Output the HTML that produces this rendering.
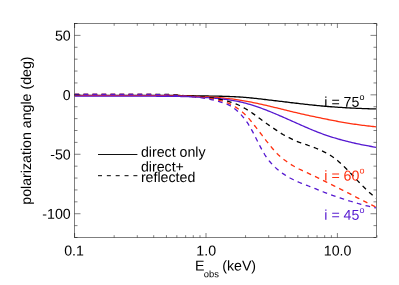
<!DOCTYPE html>
<html><head><meta charset="utf-8"><style>
html,body{margin:0;padding:0;background:#fff;}
body{width:399px;height:285px;overflow:hidden;position:relative;font-family:"Liberation Sans",sans-serif;}
</style></head><body>
<svg width="399" height="285" viewBox="0 0 399 285" style="position:absolute;left:0;top:0;opacity:0.999;will-change:transform">
<rect x="0" y="0" width="399" height="285" fill="#fff"/>
<clipPath id="c"><rect x="74.5" y="23.5" width="302.0" height="214.0"/></clipPath>
<g clip-path="url(#c)" fill="none" stroke-width="1.3" stroke-linejoin="round">
<path d="M74.50 95.35 L76.00 95.35 L77.50 95.35 L79.00 95.35 L80.50 95.35 L82.00 95.35 L83.50 95.35 L85.00 95.35 L86.50 95.35 L88.00 95.35 L89.50 95.35 L91.00 95.35 L92.50 95.35 L94.00 95.35 L95.50 95.35 L97.00 95.35 L98.50 95.35 L100.00 95.35 L101.50 95.35 L103.00 95.35 L104.50 95.35 L106.00 95.35 L107.50 95.35 L109.00 95.35 L110.50 95.35 L112.00 95.35 L113.50 95.35 L115.00 95.35 L116.50 95.35 L118.00 95.35 L119.50 95.35 L121.00 95.35 L122.50 95.35 L124.00 95.35 L125.50 95.35 L127.00 95.35 L128.50 95.35 L130.00 95.35 L131.50 95.35 L133.00 95.35 L134.50 95.35 L136.00 95.35 L137.50 95.35 L139.00 95.35 L140.50 95.35 L142.00 95.35 L143.50 95.35 L145.00 95.35 L146.50 95.35 L148.00 95.35 L149.50 95.36 L151.00 95.36 L152.50 95.36 L154.00 95.36 L155.50 95.37 L157.00 95.37 L158.50 95.38 L160.00 95.38 L161.50 95.39 L163.00 95.39 L164.50 95.40 L166.00 95.41 L167.50 95.42 L169.00 95.43 L170.50 95.44 L172.00 95.45 L173.50 95.46 L175.00 95.47 L176.50 95.49 L178.00 95.51 L179.50 95.52 L181.00 95.54 L182.50 95.56 L184.00 95.59 L185.50 95.61 L187.00 95.64 L188.50 95.66 L190.00 95.69 L191.50 95.72 L193.00 95.75 L194.50 95.78 L196.00 95.80 L197.50 95.83 L199.00 95.86 L200.50 95.89 L202.00 95.91 L203.50 95.94 L205.00 95.96 L206.50 95.99 L208.00 96.01 L209.50 96.04 L211.00 96.06 L212.50 96.09 L214.00 96.11 L215.50 96.14 L217.00 96.17 L218.50 96.20 L220.00 96.24 L221.50 96.27 L223.00 96.31 L224.50 96.35 L226.00 96.39 L227.50 96.44 L229.00 96.49 L230.50 96.55 L232.00 96.61 L233.50 96.67 L235.00 96.74 L236.50 96.82 L238.00 96.90 L239.50 96.99 L241.00 97.09 L242.50 97.19 L244.00 97.31 L245.50 97.43 L247.00 97.56 L248.50 97.69 L250.00 97.84 L251.50 97.99 L253.00 98.14 L254.50 98.30 L256.00 98.46 L257.50 98.63 L259.00 98.80 L260.50 98.97 L262.00 99.15 L263.50 99.32 L265.00 99.50 L266.50 99.67 L268.00 99.85 L269.50 100.03 L271.00 100.21 L272.50 100.38 L274.00 100.56 L275.50 100.74 L277.00 100.92 L278.50 101.10 L280.00 101.28 L281.50 101.47 L283.00 101.65 L284.50 101.83 L286.00 102.01 L287.50 102.19 L289.00 102.37 L290.50 102.55 L292.00 102.73 L293.50 102.91 L295.00 103.09 L296.50 103.27 L298.00 103.44 L299.50 103.62 L301.00 103.79 L302.50 103.96 L304.00 104.13 L305.50 104.30 L307.00 104.47 L308.50 104.63 L310.00 104.79 L311.50 104.95 L313.00 105.11 L314.50 105.26 L316.00 105.41 L317.50 105.56 L319.00 105.71 L320.50 105.85 L322.00 105.98 L323.50 106.12 L325.00 106.25 L326.50 106.38 L328.00 106.50 L329.50 106.62 L331.00 106.74 L332.50 106.85 L334.00 106.96 L335.50 107.07 L337.00 107.18 L338.50 107.28 L340.00 107.38 L341.50 107.47 L343.00 107.57 L344.50 107.66 L346.00 107.74 L347.50 107.83 L349.00 107.91 L350.50 107.99 L352.00 108.06 L353.50 108.14 L355.00 108.21 L356.50 108.28 L358.00 108.34 L359.50 108.41 L361.00 108.47 L362.50 108.53 L364.00 108.58 L365.50 108.64 L367.00 108.69 L368.50 108.74 L370.00 108.79 L371.50 108.84 L373.00 108.89 L374.50 108.93 L376.00 108.97" stroke="#000000"/>
<path d="M74.50 95.65 L76.00 95.65 L77.50 95.65 L79.00 95.65 L80.50 95.65 L82.00 95.65 L83.50 95.65 L85.00 95.65 L86.50 95.65 L88.00 95.65 L89.50 95.65 L91.00 95.65 L92.50 95.65 L94.00 95.65 L95.50 95.65 L97.00 95.65 L98.50 95.65 L100.00 95.65 L101.50 95.65 L103.00 95.65 L104.50 95.65 L106.00 95.65 L107.50 95.65 L109.00 95.65 L110.50 95.65 L112.00 95.65 L113.50 95.65 L115.00 95.65 L116.50 95.65 L118.00 95.65 L119.50 95.65 L121.00 95.65 L122.50 95.65 L124.00 95.65 L125.50 95.65 L127.00 95.65 L128.50 95.65 L130.00 95.65 L131.50 95.65 L133.00 95.65 L134.50 95.65 L136.00 95.65 L137.50 95.65 L139.00 95.65 L140.50 95.65 L142.00 95.65 L143.50 95.65 L145.00 95.65 L146.50 95.66 L148.00 95.66 L149.50 95.66 L151.00 95.66 L152.50 95.67 L154.00 95.67 L155.50 95.68 L157.00 95.68 L158.50 95.69 L160.00 95.70 L161.50 95.71 L163.00 95.72 L164.50 95.73 L166.00 95.75 L167.50 95.76 L169.00 95.78 L170.50 95.79 L172.00 95.81 L173.50 95.83 L175.00 95.86 L176.50 95.88 L178.00 95.91 L179.50 95.94 L181.00 95.97 L182.50 96.00 L184.00 96.04 L185.50 96.08 L187.00 96.13 L188.50 96.17 L190.00 96.22 L191.50 96.27 L193.00 96.33 L194.50 96.39 L196.00 96.44 L197.50 96.50 L199.00 96.57 L200.50 96.63 L202.00 96.69 L203.50 96.76 L205.00 96.83 L206.50 96.90 L208.00 96.97 L209.50 97.05 L211.00 97.13 L212.50 97.22 L214.00 97.31 L215.50 97.40 L217.00 97.50 L218.50 97.61 L220.00 97.73 L221.50 97.86 L223.00 97.99 L224.50 98.13 L226.00 98.28 L227.50 98.44 L229.00 98.61 L230.50 98.79 L232.00 98.98 L233.50 99.17 L235.00 99.38 L236.50 99.59 L238.00 99.82 L239.50 100.05 L241.00 100.29 L242.50 100.54 L244.00 100.80 L245.50 101.06 L247.00 101.34 L248.50 101.62 L250.00 101.91 L251.50 102.21 L253.00 102.52 L254.50 102.83 L256.00 103.15 L257.50 103.47 L259.00 103.80 L260.50 104.13 L262.00 104.46 L263.50 104.80 L265.00 105.14 L266.50 105.49 L268.00 105.84 L269.50 106.19 L271.00 106.54 L272.50 106.90 L274.00 107.26 L275.50 107.63 L277.00 107.99 L278.50 108.36 L280.00 108.72 L281.50 109.09 L283.00 109.46 L284.50 109.83 L286.00 110.20 L287.50 110.57 L289.00 110.93 L290.50 111.30 L292.00 111.66 L293.50 112.02 L295.00 112.37 L296.50 112.73 L298.00 113.08 L299.50 113.43 L301.00 113.77 L302.50 114.11 L304.00 114.45 L305.50 114.78 L307.00 115.11 L308.50 115.44 L310.00 115.77 L311.50 116.09 L313.00 116.41 L314.50 116.72 L316.00 117.04 L317.50 117.35 L319.00 117.66 L320.50 117.97 L322.00 118.28 L323.50 118.58 L325.00 118.89 L326.50 119.19 L328.00 119.49 L329.50 119.79 L331.00 120.09 L332.50 120.38 L334.00 120.67 L335.50 120.96 L337.00 121.25 L338.50 121.53 L340.00 121.81 L341.50 122.08 L343.00 122.34 L344.50 122.60 L346.00 122.86 L347.50 123.11 L349.00 123.35 L350.50 123.59 L352.00 123.82 L353.50 124.04 L355.00 124.26 L356.50 124.48 L358.00 124.68 L359.50 124.89 L361.00 125.09 L362.50 125.28 L364.00 125.47 L365.50 125.65 L367.00 125.83 L368.50 126.00 L370.00 126.17 L371.50 126.34 L373.00 126.50 L374.50 126.66 L376.00 126.82" stroke="#ff3010"/>
<path d="M74.50 96.20 L76.00 96.20 L77.50 96.20 L79.00 96.20 L80.50 96.20 L82.00 96.20 L83.50 96.20 L85.00 96.20 L86.50 96.20 L88.00 96.20 L89.50 96.20 L91.00 96.20 L92.50 96.20 L94.00 96.20 L95.50 96.20 L97.00 96.20 L98.50 96.20 L100.00 96.20 L101.50 96.20 L103.00 96.20 L104.50 96.20 L106.00 96.20 L107.50 96.20 L109.00 96.20 L110.50 96.20 L112.00 96.20 L113.50 96.20 L115.00 96.20 L116.50 96.20 L118.00 96.20 L119.50 96.20 L121.00 96.20 L122.50 96.20 L124.00 96.20 L125.50 96.20 L127.00 96.20 L128.50 96.20 L130.00 96.20 L131.50 96.20 L133.00 96.20 L134.50 96.20 L136.00 96.20 L137.50 96.20 L139.00 96.20 L140.50 96.20 L142.00 96.20 L143.50 96.20 L145.00 96.20 L146.50 96.20 L148.00 96.21 L149.50 96.21 L151.00 96.21 L152.50 96.21 L154.00 96.22 L155.50 96.22 L157.00 96.23 L158.50 96.23 L160.00 96.24 L161.50 96.25 L163.00 96.26 L164.50 96.27 L166.00 96.28 L167.50 96.29 L169.00 96.30 L170.50 96.32 L172.00 96.33 L173.50 96.35 L175.00 96.37 L176.50 96.39 L178.00 96.42 L179.50 96.45 L181.00 96.48 L182.50 96.52 L184.00 96.56 L185.50 96.60 L187.00 96.65 L188.50 96.71 L190.00 96.76 L191.50 96.82 L193.00 96.89 L194.50 96.96 L196.00 97.03 L197.50 97.10 L199.00 97.18 L200.50 97.26 L202.00 97.35 L203.50 97.43 L205.00 97.53 L206.50 97.62 L208.00 97.72 L209.50 97.83 L211.00 97.94 L212.50 98.05 L214.00 98.17 L215.50 98.30 L217.00 98.44 L218.50 98.58 L220.00 98.73 L221.50 98.90 L223.00 99.07 L224.50 99.25 L226.00 99.44 L227.50 99.65 L229.00 99.86 L230.50 100.09 L232.00 100.33 L233.50 100.59 L235.00 100.86 L236.50 101.14 L238.00 101.44 L239.50 101.76 L241.00 102.09 L242.50 102.45 L244.00 102.82 L245.50 103.21 L247.00 103.61 L248.50 104.04 L250.00 104.48 L251.50 104.94 L253.00 105.41 L254.50 105.90 L256.00 106.40 L257.50 106.91 L259.00 107.43 L260.50 107.97 L262.00 108.51 L263.50 109.07 L265.00 109.63 L266.50 110.21 L268.00 110.79 L269.50 111.39 L271.00 111.99 L272.50 112.60 L274.00 113.23 L275.50 113.86 L277.00 114.49 L278.50 115.14 L280.00 115.79 L281.50 116.44 L283.00 117.10 L284.50 117.76 L286.00 118.43 L287.50 119.10 L289.00 119.76 L290.50 120.43 L292.00 121.10 L293.50 121.77 L295.00 122.44 L296.50 123.11 L298.00 123.77 L299.50 124.44 L301.00 125.10 L302.50 125.75 L304.00 126.41 L305.50 127.06 L307.00 127.71 L308.50 128.35 L310.00 128.98 L311.50 129.61 L313.00 130.23 L314.50 130.84 L316.00 131.44 L317.50 132.03 L319.00 132.61 L320.50 133.18 L322.00 133.74 L323.50 134.28 L325.00 134.81 L326.50 135.33 L328.00 135.84 L329.50 136.33 L331.00 136.82 L332.50 137.29 L334.00 137.75 L335.50 138.21 L337.00 138.65 L338.50 139.08 L340.00 139.50 L341.50 139.92 L343.00 140.32 L344.50 140.71 L346.00 141.10 L347.50 141.48 L349.00 141.85 L350.50 142.21 L352.00 142.56 L353.50 142.91 L355.00 143.25 L356.50 143.58 L358.00 143.90 L359.50 144.22 L361.00 144.53 L362.50 144.83 L364.00 145.13 L365.50 145.42 L367.00 145.70 L368.50 145.98 L370.00 146.25 L371.50 146.51 L373.00 146.77 L374.50 147.02 L376.00 147.27" stroke="#5518d0"/>
<path d="M74.50 94.30 L76.00 94.30 L77.50 94.30 L79.00 94.30 L80.50 94.30 L82.00 94.30 L83.50 94.30 L85.00 94.30 L86.50 94.30 L88.00 94.30 L89.50 94.30 L91.00 94.30 L92.50 94.30 L94.00 94.30 L95.50 94.30 L97.00 94.30 L98.50 94.30 L100.00 94.30 L101.50 94.30 L103.00 94.30 L104.50 94.30 L106.00 94.30 L107.50 94.30 L109.00 94.30 L110.50 94.30 L112.00 94.30 L113.50 94.30 L115.00 94.30 L116.50 94.30 L118.00 94.30 L119.50 94.30 L121.00 94.30 L122.50 94.30 L124.00 94.30 L125.50 94.30 L127.00 94.30 L128.50 94.30 L130.00 94.30 L131.50 94.30 L133.00 94.30 L134.50 94.30 L136.00 94.30 L137.50 94.30 L139.00 94.30 L140.50 94.30 L142.00 94.30 L143.50 94.30 L145.00 94.30 L146.50 94.30 L148.00 94.30 L149.50 94.30 L151.00 94.31 L152.50 94.31 L154.00 94.32 L155.50 94.32 L157.00 94.33 L158.50 94.35 L160.00 94.36 L161.50 94.38 L163.00 94.40 L164.50 94.42 L166.00 94.45 L167.50 94.48 L169.00 94.52 L170.50 94.58 L172.00 94.64 L173.50 94.73 L175.00 94.82 L176.50 94.93 L178.00 95.04 L179.50 95.17 L181.00 95.30 L182.50 95.43 L184.00 95.56 L185.50 95.69 L187.00 95.82 L188.50 95.95 L190.00 96.07 L191.50 96.19 L193.00 96.30 L194.50 96.41 L196.00 96.52 L197.50 96.63 L199.00 96.74 L200.50 96.84 L202.00 96.96 L203.50 97.07 L205.00 97.20 L206.50 97.33 L208.00 97.47 L209.50 97.63 L211.00 97.81 L212.50 98.01 L214.00 98.23 L215.50 98.47 L217.00 98.74 L218.50 99.03 L220.00 99.34 L221.50 99.68 L223.00 100.03 L224.50 100.40 L226.00 100.79 L227.50 101.19 L229.00 101.61 L230.50 102.05 L232.00 102.51 L233.50 103.00 L235.00 103.54 L236.50 104.12 L238.00 104.77 L239.50 105.47 L241.00 106.23 L242.50 107.04 L244.00 107.88 L245.50 108.76 L247.00 109.67 L248.50 110.61 L250.00 111.57 L251.50 112.57 L253.00 113.59 L254.50 114.64 L256.00 115.71 L257.50 116.81 L259.00 117.93 L260.50 119.06 L262.00 120.19 L263.50 121.32 L265.00 122.43 L266.50 123.52 L268.00 124.57 L269.50 125.61 L271.00 126.62 L272.50 127.62 L274.00 128.63 L275.50 129.64 L277.00 130.65 L278.50 131.66 L280.00 132.64 L281.50 133.60 L283.00 134.51 L284.50 135.37 L286.00 136.19 L287.50 136.96 L289.00 137.70 L290.50 138.43 L292.00 139.14 L293.50 139.84 L295.00 140.52 L296.50 141.18 L298.00 141.80 L299.50 142.40 L301.00 142.95 L302.50 143.48 L304.00 143.99 L305.50 144.49 L307.00 144.99 L308.50 145.50 L310.00 146.02 L311.50 146.55 L313.00 147.10 L314.50 147.67 L316.00 148.26 L317.50 148.87 L319.00 149.50 L320.50 150.16 L322.00 150.85 L323.50 151.57 L325.00 152.33 L326.50 153.13 L328.00 153.97 L329.50 154.86 L331.00 155.79 L332.50 156.78 L334.00 157.83 L335.50 158.95 L337.00 160.13 L338.50 161.38 L340.00 162.68 L341.50 164.05 L343.00 165.48 L344.50 166.95 L346.00 168.46 L347.50 170.01 L349.00 171.58 L350.50 173.17 L352.00 174.77 L353.50 176.38 L355.00 177.98 L356.50 179.58 L358.00 181.16 L359.50 182.73 L361.00 184.28 L362.50 185.81 L364.00 187.31 L365.50 188.78 L367.00 190.22 L368.50 191.62 L370.00 192.99 L371.50 194.32 L373.00 195.62 L374.50 196.90 L376.00 198.16" stroke="#000000" stroke-dasharray="4.7 4.3"/>
<path d="M74.50 94.30 L76.00 94.30 L77.50 94.30 L79.00 94.30 L80.50 94.30 L82.00 94.30 L83.50 94.30 L85.00 94.30 L86.50 94.30 L88.00 94.30 L89.50 94.30 L91.00 94.30 L92.50 94.30 L94.00 94.30 L95.50 94.30 L97.00 94.30 L98.50 94.30 L100.00 94.30 L101.50 94.30 L103.00 94.30 L104.50 94.30 L106.00 94.30 L107.50 94.30 L109.00 94.30 L110.50 94.30 L112.00 94.30 L113.50 94.30 L115.00 94.30 L116.50 94.30 L118.00 94.30 L119.50 94.30 L121.00 94.30 L122.50 94.30 L124.00 94.30 L125.50 94.30 L127.00 94.30 L128.50 94.30 L130.00 94.30 L131.50 94.30 L133.00 94.30 L134.50 94.30 L136.00 94.30 L137.50 94.30 L139.00 94.31 L140.50 94.31 L142.00 94.32 L143.50 94.33 L145.00 94.34 L146.50 94.35 L148.00 94.37 L149.50 94.39 L151.00 94.42 L152.50 94.44 L154.00 94.47 L155.50 94.51 L157.00 94.54 L158.50 94.58 L160.00 94.62 L161.50 94.66 L163.00 94.71 L164.50 94.77 L166.00 94.83 L167.50 94.90 L169.00 94.97 L170.50 95.05 L172.00 95.13 L173.50 95.22 L175.00 95.30 L176.50 95.39 L178.00 95.48 L179.50 95.58 L181.00 95.67 L182.50 95.77 L184.00 95.87 L185.50 95.98 L187.00 96.08 L188.50 96.20 L190.00 96.31 L191.50 96.44 L193.00 96.56 L194.50 96.69 L196.00 96.83 L197.50 96.97 L199.00 97.12 L200.50 97.27 L202.00 97.43 L203.50 97.60 L205.00 97.77 L206.50 97.96 L208.00 98.16 L209.50 98.38 L211.00 98.62 L212.50 98.89 L214.00 99.17 L215.50 99.48 L217.00 99.81 L218.50 100.15 L220.00 100.52 L221.50 100.91 L223.00 101.32 L224.50 101.78 L226.00 102.27 L227.50 102.83 L229.00 103.46 L230.50 104.16 L232.00 104.94 L233.50 105.78 L235.00 106.69 L236.50 107.65 L238.00 108.67 L239.50 109.76 L241.00 110.92 L242.50 112.17 L244.00 113.51 L245.50 114.97 L247.00 116.53 L248.50 118.19 L250.00 119.92 L251.50 121.73 L253.00 123.59 L254.50 125.48 L256.00 127.40 L257.50 129.34 L259.00 131.28 L260.50 133.24 L262.00 135.19 L263.50 137.15 L265.00 139.10 L266.50 141.04 L268.00 142.96 L269.50 144.85 L271.00 146.70 L272.50 148.50 L274.00 150.23 L275.50 151.89 L277.00 153.46 L278.50 154.94 L280.00 156.31 L281.50 157.60 L283.00 158.82 L284.50 159.98 L286.00 161.09 L287.50 162.16 L289.00 163.19 L290.50 164.18 L292.00 165.13 L293.50 166.03 L295.00 166.89 L296.50 167.70 L298.00 168.48 L299.50 169.24 L301.00 169.96 L302.50 170.67 L304.00 171.35 L305.50 172.03 L307.00 172.69 L308.50 173.36 L310.00 174.04 L311.50 174.72 L313.00 175.42 L314.50 176.13 L316.00 176.85 L317.50 177.58 L319.00 178.32 L320.50 179.07 L322.00 179.82 L323.50 180.58 L325.00 181.33 L326.50 182.09 L328.00 182.84 L329.50 183.59 L331.00 184.34 L332.50 185.09 L334.00 185.84 L335.50 186.58 L337.00 187.33 L338.50 188.08 L340.00 188.84 L341.50 189.59 L343.00 190.35 L344.50 191.11 L346.00 191.87 L347.50 192.64 L349.00 193.41 L350.50 194.19 L352.00 194.97 L353.50 195.75 L355.00 196.53 L356.50 197.31 L358.00 198.08 L359.50 198.85 L361.00 199.62 L362.50 200.38 L364.00 201.14 L365.50 201.89 L367.00 202.64 L368.50 203.38 L370.00 204.12 L371.50 204.86 L373.00 205.59 L374.50 206.33 L376.00 207.05" stroke="#ff3010" stroke-dasharray="4.7 4.3"/>
<path d="M74.50 94.30 L76.00 94.30 L77.50 94.30 L79.00 94.30 L80.50 94.30 L82.00 94.30 L83.50 94.30 L85.00 94.30 L86.50 94.30 L88.00 94.30 L89.50 94.30 L91.00 94.30 L92.50 94.30 L94.00 94.30 L95.50 94.30 L97.00 94.30 L98.50 94.30 L100.00 94.30 L101.50 94.30 L103.00 94.30 L104.50 94.30 L106.00 94.30 L107.50 94.30 L109.00 94.30 L110.50 94.30 L112.00 94.30 L113.50 94.30 L115.00 94.30 L116.50 94.30 L118.00 94.30 L119.50 94.30 L121.00 94.30 L122.50 94.30 L124.00 94.30 L125.50 94.30 L127.00 94.30 L128.50 94.30 L130.00 94.30 L131.50 94.30 L133.00 94.30 L134.50 94.30 L136.00 94.30 L137.50 94.30 L139.00 94.31 L140.50 94.31 L142.00 94.32 L143.50 94.34 L145.00 94.35 L146.50 94.37 L148.00 94.40 L149.50 94.43 L151.00 94.46 L152.50 94.50 L154.00 94.53 L155.50 94.58 L157.00 94.62 L158.50 94.67 L160.00 94.72 L161.50 94.77 L163.00 94.83 L164.50 94.90 L166.00 94.97 L167.50 95.04 L169.00 95.12 L170.50 95.21 L172.00 95.30 L173.50 95.39 L175.00 95.48 L176.50 95.58 L178.00 95.67 L179.50 95.77 L181.00 95.87 L182.50 95.97 L184.00 96.07 L185.50 96.18 L187.00 96.29 L188.50 96.41 L190.00 96.53 L191.50 96.67 L193.00 96.82 L194.50 96.97 L196.00 97.14 L197.50 97.32 L199.00 97.51 L200.50 97.71 L202.00 97.92 L203.50 98.15 L205.00 98.39 L206.50 98.65 L208.00 98.92 L209.50 99.21 L211.00 99.53 L212.50 99.86 L214.00 100.22 L215.50 100.59 L217.00 100.98 L218.50 101.39 L220.00 101.82 L221.50 102.26 L223.00 102.73 L224.50 103.24 L226.00 103.79 L227.50 104.42 L229.00 105.13 L230.50 105.93 L232.00 106.84 L233.50 107.86 L235.00 109.00 L236.50 110.25 L238.00 111.61 L239.50 113.09 L241.00 114.67 L242.50 116.35 L244.00 118.16 L245.50 120.10 L247.00 122.21 L248.50 124.48 L250.00 126.94 L251.50 129.57 L253.00 132.35 L254.50 135.24 L256.00 138.20 L257.50 141.20 L259.00 144.19 L260.50 147.11 L262.00 149.92 L263.50 152.56 L265.00 155.02 L266.50 157.29 L268.00 159.37 L269.50 161.27 L271.00 163.03 L272.50 164.66 L274.00 166.18 L275.50 167.61 L277.00 168.95 L278.50 170.22 L280.00 171.42 L281.50 172.56 L283.00 173.64 L284.50 174.66 L286.00 175.63 L287.50 176.54 L289.00 177.41 L290.50 178.24 L292.00 179.02 L293.50 179.78 L295.00 180.49 L296.50 181.19 L298.00 181.85 L299.50 182.49 L301.00 183.11 L302.50 183.71 L304.00 184.30 L305.50 184.88 L307.00 185.44 L308.50 186.01 L310.00 186.58 L311.50 187.15 L313.00 187.73 L314.50 188.32 L316.00 188.93 L317.50 189.54 L319.00 190.16 L320.50 190.78 L322.00 191.40 L323.50 192.02 L325.00 192.63 L326.50 193.22 L328.00 193.80 L329.50 194.36 L331.00 194.91 L332.50 195.45 L334.00 195.97 L335.50 196.47 L337.00 196.97 L338.50 197.46 L340.00 197.95 L341.50 198.43 L343.00 198.90 L344.50 199.37 L346.00 199.84 L347.50 200.31 L349.00 200.78 L350.50 201.25 L352.00 201.71 L353.50 202.17 L355.00 202.62 L356.50 203.07 L358.00 203.50 L359.50 203.93 L361.00 204.34 L362.50 204.75 L364.00 205.14 L365.50 205.52 L367.00 205.88 L368.50 206.24 L370.00 206.59 L371.50 206.92 L373.00 207.25 L374.50 207.57 L376.00 207.89" stroke="#5518d0" stroke-dasharray="4.7 4.3"/>
</g>
<g stroke="#000" stroke-width="0.5" fill="none">
<rect x="74.5" y="23.5" width="302.0" height="214.0"/>
<path d="M74.5 237.50h3M376.5 237.50h-3M74.5 225.61h3M376.5 225.61h-3M74.5 213.72h6M376.5 213.72h-6M74.5 201.83h3M376.5 201.83h-3M74.5 189.94h3M376.5 189.94h-3M74.5 178.06h3M376.5 178.06h-3M74.5 166.17h3M376.5 166.17h-3M74.5 154.28h6M376.5 154.28h-6M74.5 142.39h3M376.5 142.39h-3M74.5 130.50h3M376.5 130.50h-3M74.5 118.61h3M376.5 118.61h-3M74.5 106.72h3M376.5 106.72h-3M74.5 94.83h6M376.5 94.83h-6M74.5 82.94h3M376.5 82.94h-3M74.5 71.06h3M376.5 71.06h-3M74.5 59.17h3M376.5 59.17h-3M74.5 47.28h3M376.5 47.28h-3M74.5 35.39h6M376.5 35.39h-6M74.5 23.50h3M376.5 23.50h-3M74.60 237.5v-4.5M74.60 23.5v4.5M114.16 237.5v-2.3M114.16 23.5v2.3M137.29 237.5v-2.3M137.29 23.5v2.3M153.71 237.5v-2.3M153.71 23.5v2.3M166.44 237.5v-2.3M166.44 23.5v2.3M176.85 237.5v-2.3M176.85 23.5v2.3M185.65 237.5v-2.3M185.65 23.5v2.3M193.27 237.5v-2.3M193.27 23.5v2.3M199.99 237.5v-2.3M199.99 23.5v2.3M206.00 237.5v-4.5M206.00 23.5v4.5M245.56 237.5v-2.3M245.56 23.5v2.3M268.69 237.5v-2.3M268.69 23.5v2.3M285.11 237.5v-2.3M285.11 23.5v2.3M297.84 237.5v-2.3M297.84 23.5v2.3M308.25 237.5v-2.3M308.25 23.5v2.3M317.05 237.5v-2.3M317.05 23.5v2.3M324.67 237.5v-2.3M324.67 23.5v2.3M331.39 237.5v-2.3M331.39 23.5v2.3M337.40 237.5v-4.5M337.40 23.5v4.5M376.96 237.5v-2.3M376.96 23.5v2.3"/>
</g>
<path d="M98 154.5H137.4" stroke="#111" stroke-width="1.1" fill="none"/>
<path d="M98 175.7H137.4" stroke="#000" stroke-width="1" fill="none" stroke-dasharray="4.0 4.85"/>
<g font-family="Liberation Sans, sans-serif" font-size="14.2px" fill="#000" stroke-width="0.15" text-rendering="geometricPrecision">
<text transform="translate(70.70 40.49) rotate(0.03)" text-anchor="end">50</text>
<text transform="translate(70.70 99.93) rotate(0.03)" text-anchor="end">0</text>
<text transform="translate(70.70 159.38) rotate(0.03)" text-anchor="end">-50</text>
<text transform="translate(70.70 218.82) rotate(0.03)" text-anchor="end">-100</text>
<text transform="translate(74.00 255.60) rotate(0.03)" text-anchor="middle">0.1</text>
<text transform="translate(206.20 255.60) rotate(0.03)" text-anchor="middle">1.0</text>
<text transform="translate(337.60 255.60) rotate(0.03)" text-anchor="middle">10.0</text>
<text transform="translate(194.90 270.50) rotate(0.03)" text-anchor="start">E</text>
<text transform="translate(203.70 277.30) rotate(0.03)" text-anchor="start" font-size="9.4px">obs</text>
<text transform="translate(222.20 270.50) rotate(0.03)" text-anchor="start">(keV)</text>
<text transform="translate(31.15 130.6) rotate(-90)" text-anchor="middle" font-size="14.2px">polarization angle (deg)</text>
<text transform="translate(140.90 156.70) rotate(0.03)" text-anchor="start">direct only</text>
<text transform="translate(140.90 171.60) rotate(0.03)" text-anchor="start">direct+</text>
<text transform="translate(140.90 181.90) rotate(0.03)" text-anchor="start">reflected</text>
<text transform="translate(324.30 106.80) rotate(0.03)" text-anchor="start" fill="#000000">i = 75<tspan font-size="9px" dy="-6.8">o</tspan></text>
<text transform="translate(324.30 180.40) rotate(0.03)" text-anchor="start" fill="#ff3010">i = 60<tspan font-size="9px" dy="-6.8">o</tspan></text>
<text transform="translate(324.30 219.70) rotate(0.03)" text-anchor="start" fill="#5518d0">i = 45<tspan font-size="9px" dy="-6.8">o</tspan></text>
</g>
</svg>
</body></html>
